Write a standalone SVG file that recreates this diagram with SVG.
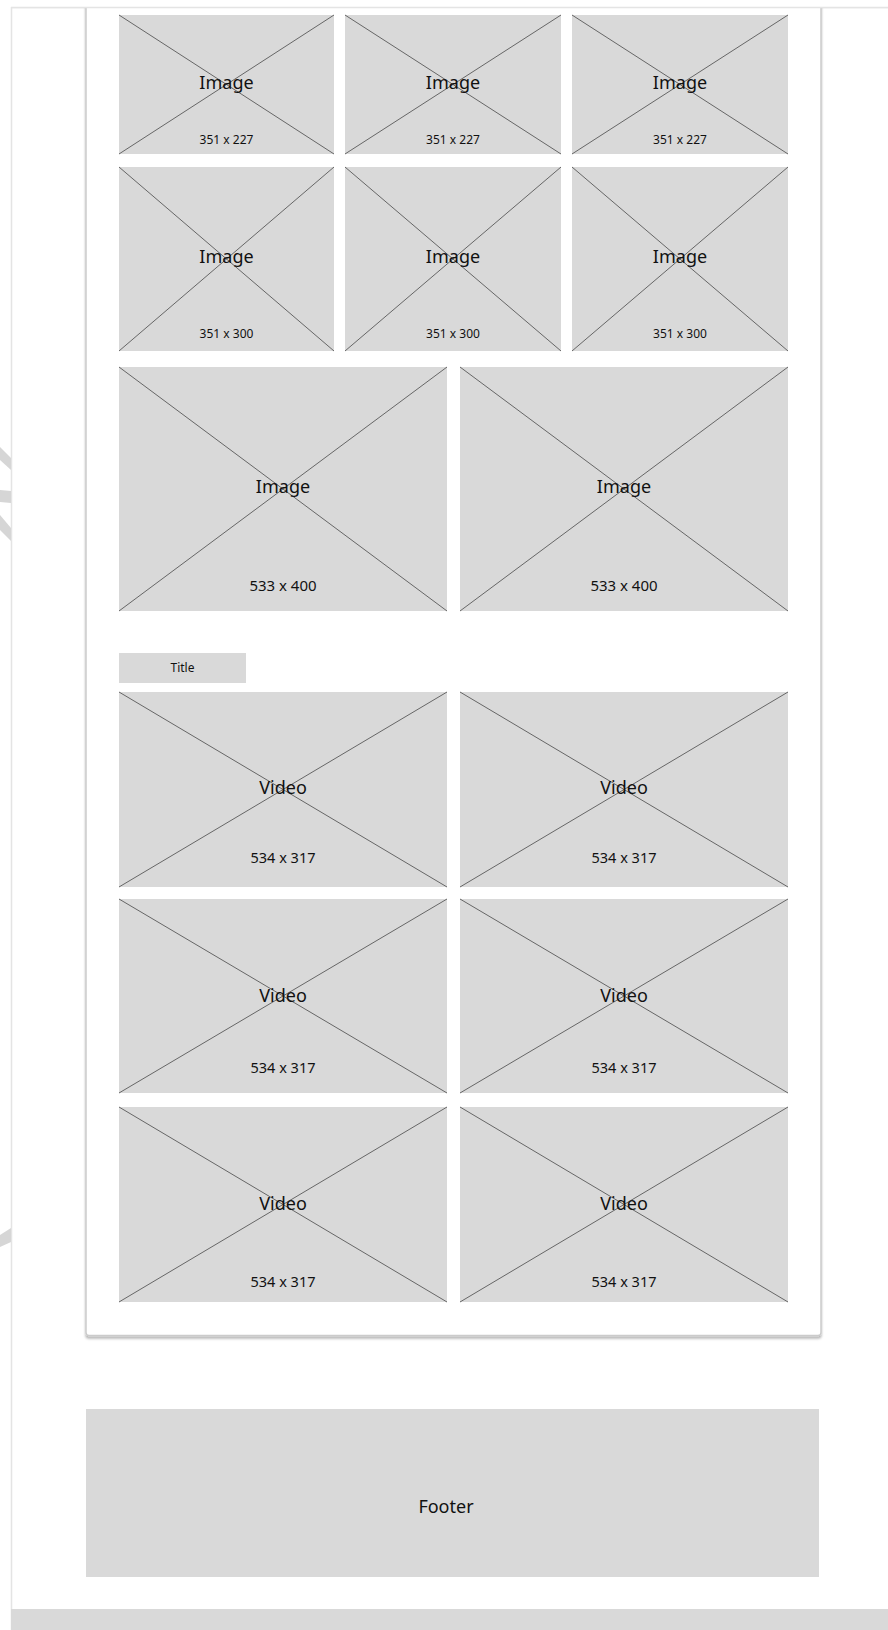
<svg xmlns="http://www.w3.org/2000/svg" width="888" height="1630" viewBox="0 0 888 1630">
<style>
.ph{fill:#d9d9d9;}
.x{stroke:#666666;stroke-width:1;fill:none;}
.lbl{font-family:"Noto Sans","Liberation Sans",sans-serif;fill:#111111;text-anchor:middle;}
.big{font-size:18px;}
.sm{font-size:12px;}
.md{font-size:14.5px;}
.lg{font-size:15px;}
.wm{fill:#d6d6d6;}
</style>
<defs>
<filter id="sh" x="-5%" y="-5%" width="110%" height="110%">
<feDropShadow dx="0" dy="2.5" stdDeviation="1.2" flood-color="#000" flood-opacity="0.28"/>
</filter>
</defs>
<rect x="0" y="0" width="888" height="1630" fill="#ffffff"/>
<g id="frame">
<rect x="11.5" y="7.5" width="890" height="1640" fill="#ffffff" stroke="#e4e4e4" stroke-width="1.5"/>
<rect x="11" y="1609" width="877" height="21" fill="#d9d9d9"/>
</g>
<g id="watermark">
<polygon class="wm" points="0,447 11,458 11,470 0,460"/>
<polygon class="wm" points="0,490 11,491 11,503 0,502"/>
<polygon class="wm" points="0,515 11,528 11,541 0,530"/>
<polygon class="wm" points="0,1235 11,1228 11,1242 0,1247"/>
</g>
<g id="card">
<rect x="86" y="-10" width="735" height="1345.5" rx="3" fill="#ffffff" stroke="#cbcbcb" stroke-width="1.5" filter="url(#sh)"/>
</g>
<g id="frame-top">
<rect x="0" y="0" width="888" height="7" fill="#ffffff"/>
<line x1="11" y1="7.5" x2="888" y2="7.5" stroke="#e4e4e4" stroke-width="1.5"/>
</g>
<g id="img-r1c1"><rect class="ph" x="119" y="15" width="215" height="139"/><path class="x" d="M119 15L334 154M334 15L119 154"/><text class="lbl big" x="226.5" y="89">Image</text><text class="lbl sm" x="226.5" y="144">351 x 227</text></g>
<g id="img-r1c2"><rect class="ph" x="345" y="15" width="216" height="139"/><path class="x" d="M345 15L561 154M561 15L345 154"/><text class="lbl big" x="453" y="89">Image</text><text class="lbl sm" x="453" y="144">351 x 227</text></g>
<g id="img-r1c3"><rect class="ph" x="572" y="15" width="216" height="139"/><path class="x" d="M572 15L788 154M788 15L572 154"/><text class="lbl big" x="680" y="89">Image</text><text class="lbl sm" x="680" y="144">351 x 227</text></g>
<g id="img-r2c1"><rect class="ph" x="119" y="167" width="215" height="184"/><path class="x" d="M119 167L334 351M334 167L119 351"/><text class="lbl big" x="226.5" y="263">Image</text><text class="lbl sm" x="226.5" y="338">351 x 300</text></g>
<g id="img-r2c2"><rect class="ph" x="345" y="167" width="216" height="184"/><path class="x" d="M345 167L561 351M561 167L345 351"/><text class="lbl big" x="453" y="263">Image</text><text class="lbl sm" x="453" y="338">351 x 300</text></g>
<g id="img-r2c3"><rect class="ph" x="572" y="167" width="216" height="184"/><path class="x" d="M572 167L788 351M788 167L572 351"/><text class="lbl big" x="680" y="263">Image</text><text class="lbl sm" x="680" y="338">351 x 300</text></g>
<g id="img-big1"><rect class="ph" x="119" y="367" width="328" height="244"/><path class="x" d="M119 367L447 611M447 367L119 611"/><text class="lbl big" x="283" y="493">Image</text><text class="lbl lg" x="283" y="591">533 x 400</text></g>
<g id="img-big2"><rect class="ph" x="460" y="367" width="328" height="244"/><path class="x" d="M460 367L788 611M788 367L460 611"/><text class="lbl big" x="624" y="493">Image</text><text class="lbl lg" x="624" y="591">533 x 400</text></g>
<g id="title"><rect class="ph" x="119" y="653" width="127" height="30"/><text class="lbl sm" x="182.5" y="672">Title</text></g>
<g id="vid-r1c1"><rect class="ph" x="119" y="692" width="328" height="195"/><path class="x" d="M119 692L447 887M447 692L119 887"/><text class="lbl big" x="283" y="794">Video</text><text class="lbl md" x="283" y="863">534 x 317</text></g>
<g id="vid-r1c2"><rect class="ph" x="460" y="692" width="328" height="195"/><path class="x" d="M460 692L788 887M788 692L460 887"/><text class="lbl big" x="624" y="794">Video</text><text class="lbl md" x="624" y="863">534 x 317</text></g>
<g id="vid-r2c1"><rect class="ph" x="119" y="899" width="328" height="194"/><path class="x" d="M119 899L447 1093M447 899L119 1093"/><text class="lbl big" x="283" y="1002">Video</text><text class="lbl md" x="283" y="1073">534 x 317</text></g>
<g id="vid-r2c2"><rect class="ph" x="460" y="899" width="328" height="194"/><path class="x" d="M460 899L788 1093M788 899L460 1093"/><text class="lbl big" x="624" y="1002">Video</text><text class="lbl md" x="624" y="1073">534 x 317</text></g>
<g id="vid-r3c1"><rect class="ph" x="119" y="1107" width="328" height="195"/><path class="x" d="M119 1107L447 1302M447 1107L119 1302"/><text class="lbl big" x="283" y="1210">Video</text><text class="lbl md" x="283" y="1287">534 x 317</text></g>
<g id="vid-r3c2"><rect class="ph" x="460" y="1107" width="328" height="195"/><path class="x" d="M460 1107L788 1302M788 1107L460 1302"/><text class="lbl big" x="624" y="1210">Video</text><text class="lbl md" x="624" y="1287">534 x 317</text></g>
<g id="footer"><rect class="ph" x="86" y="1409" width="733" height="168"/><text class="lbl big" x="446" y="1513">Footer</text></g>
<g id="connectors"></g>
</svg>
